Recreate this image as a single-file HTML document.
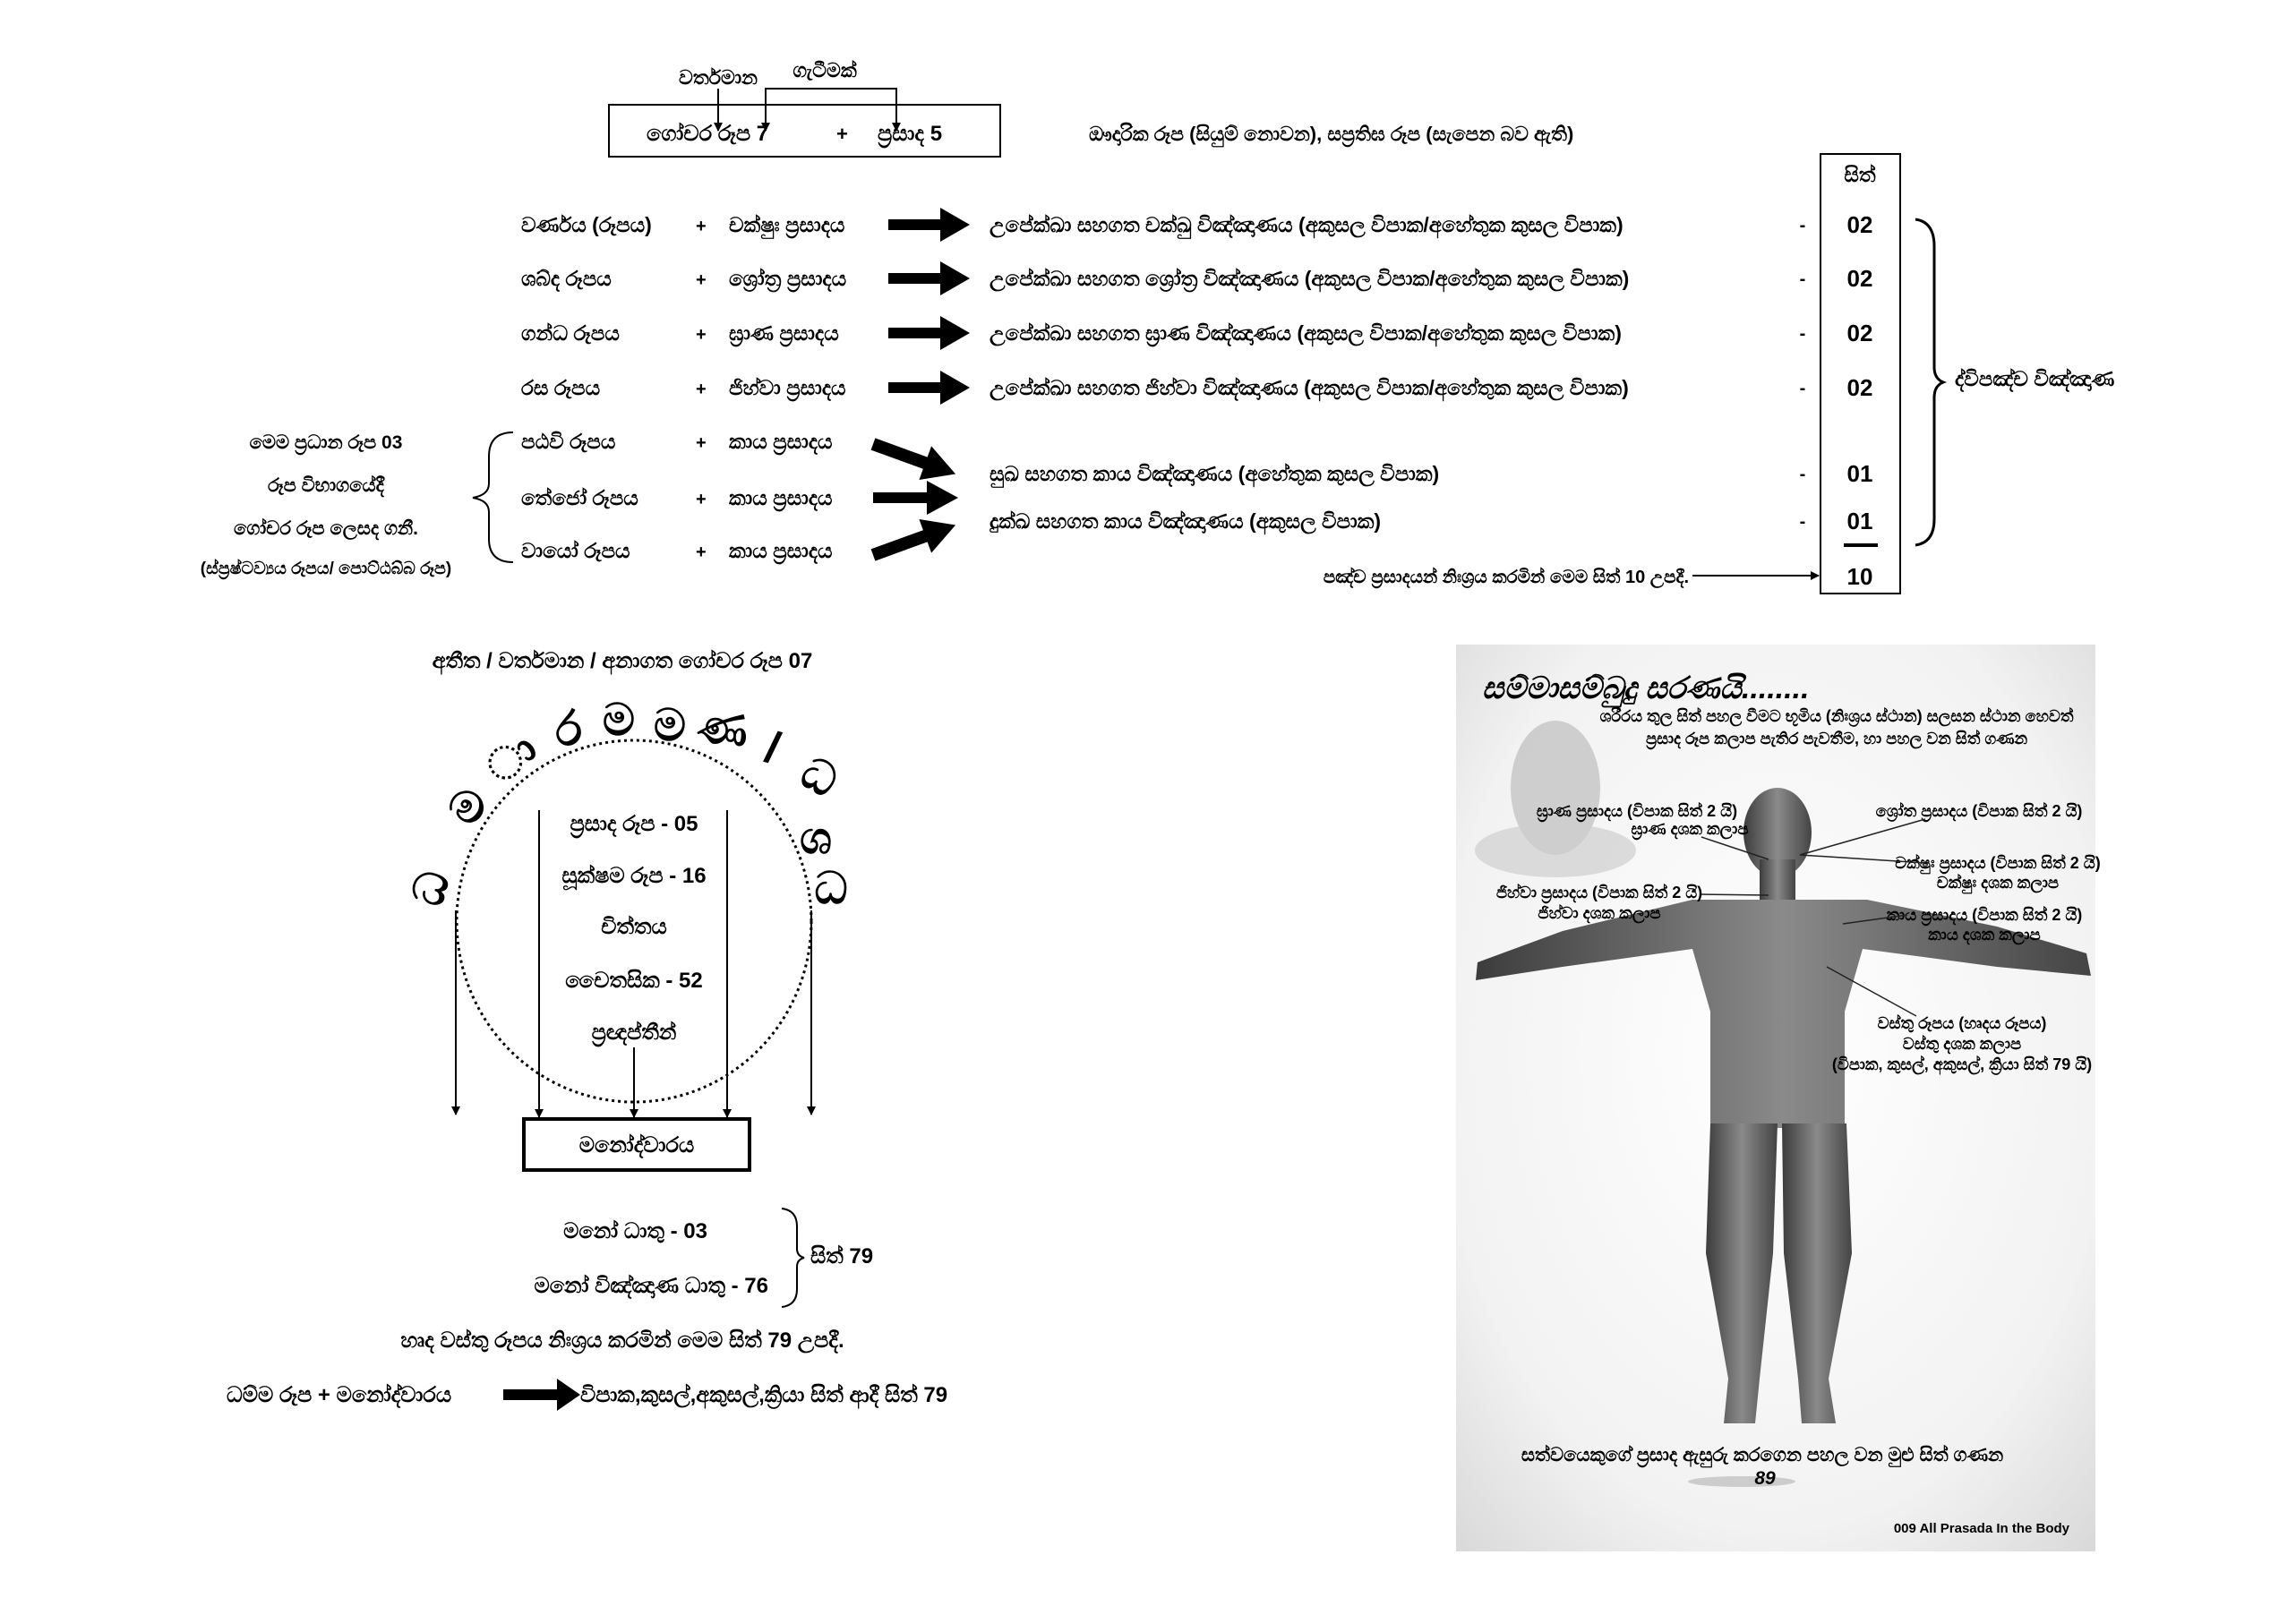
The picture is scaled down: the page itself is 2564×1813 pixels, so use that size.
<!DOCTYPE html>
<html><head><meta charset="utf-8"><style>
html,body{margin:0;padding:0;background:#fff;}
svg{display:block;}
text{font-family:"Liberation Sans","DejaVu Sans",sans-serif;font-weight:bold;fill:#000;}
</style></head><body>
<svg width="2564" height="1813" viewBox="0 0 2564 1813" xmlns="http://www.w3.org/2000/svg">
<defs>
<marker id="ah" markerWidth="10" markerHeight="10" refX="9" refY="5" orient="auto" markerUnits="userSpaceOnUse"><path d="M0,0 L10,5 L0,10 z" fill="#000"/></marker>
<marker id="ah2" markerWidth="16" markerHeight="14" refX="15" refY="7" orient="auto" markerUnits="userSpaceOnUse"><path d="M0,0 L16,7 L0,14 z" fill="#000"/></marker>
<radialGradient id="bg" cx="0.5" cy="0.45" r="0.75"><stop offset="0" stop-color="#ffffff"/><stop offset="0.7" stop-color="#f2f2f2"/><stop offset="1" stop-color="#d8d8d8"/></radialGradient>
<linearGradient id="body" x1="0" x2="1"><stop offset="0" stop-color="#3c3c3c"/><stop offset="0.5" stop-color="#8a8a8a"/><stop offset="1" stop-color="#444"/></linearGradient>
</defs>

<!-- top header -->
<text x="802" y="94" font-size="22" text-anchor="middle">වර්තමාන</text>
<text x="921" y="86" font-size="22" text-anchor="middle">ගැටීමක්</text>
<line x1="802" y1="99" x2="802" y2="146" stroke="#000" stroke-width="2" marker-end="url(#ah)"/>
<polyline points="855,146 855,99 1001,99 1001,146" fill="none" stroke="#000" stroke-width="2"/>
<line x1="855" y1="110" x2="855" y2="146" stroke="#000" stroke-width="2" marker-end="url(#ah)"/>
<line x1="1001" y1="110" x2="1001" y2="146" stroke="#000" stroke-width="2" marker-end="url(#ah)"/>
<rect x="680" y="117" width="437" height="58" fill="none" stroke="#000" stroke-width="2"/>
<text x="722" y="157" font-size="24">ගෝචර රූප 7</text>
<text x="934" y="157" font-size="22">+</text>
<text x="980" y="157" font-size="24">ප්‍රසාද 5</text>
<text x="1216" y="157" font-size="22">ඖදාරික රූප (සියුම් නොවන), සප්‍රතිඝ රූප (සැපෙන බව ඇති)</text>

<!-- sith column -->
<rect x="2033" y="172" width="89" height="491" fill="none" stroke="#000" stroke-width="2"/>
<text x="2077" y="203" font-size="23" text-anchor="middle">සිත්</text>

<!-- rows -->
<g font-size="23">
<text x="582" y="259">වර්ණය (රූපය)</text><text x="777" y="259" font-size="20">+</text><text x="814" y="259">චක්ෂුඃ ප්‍රසාදය</text>
<text x="1105" y="259">උපේක්ඛා සහගත චක්ඛු විඤ්ඤාණය (අකුසල විපාක/අහේතුක කුසල විපාක)</text>
<text x="582" y="319">ශබ්ද රූපය</text><text x="777" y="319" font-size="20">+</text><text x="814" y="319">ශ්‍රෝත්‍ර ප්‍රසාදය</text>
<text x="1105" y="319">උපේක්ඛා සහගත ශ්‍රෝත්‍ර විඤ්ඤාණය (අකුසල විපාක/අහේතුක කුසල විපාක)</text>
<text x="582" y="380">ගන්ධ රූපය</text><text x="777" y="380" font-size="20">+</text><text x="814" y="380">ඝ්‍රාණ ප්‍රසාදය</text>
<text x="1105" y="380">උපේක්ඛා සහගත ඝ්‍රාණ විඤ්ඤාණය (අකුසල විපාක/අහේතුක කුසල විපාක)</text>
<text x="582" y="441">රස රූපය</text><text x="777" y="441" font-size="20">+</text><text x="814" y="441">ජිහ්වා ප්‍රසාදය</text>
<text x="1105" y="441">උපේක්ඛා සහගත ජිහ්වා විඤ්ඤාණය (අකුසල විපාක/අහේතුක කුසල විපාක)</text>
<text x="582" y="501">පඨවි රූපය</text><text x="777" y="501" font-size="20">+</text><text x="814" y="501">කාය ප්‍රසාදය</text>
<text x="582" y="564">තේජෝ රූපය</text><text x="777" y="564" font-size="20">+</text><text x="814" y="564">කාය ප්‍රසාදය</text>
<text x="582" y="623">වායෝ රූපය</text><text x="777" y="623" font-size="20">+</text><text x="814" y="623">කාය ප්‍රසාදය</text>
<text x="1105" y="537">සුඛ සහගත කාය විඤ්ඤාණය (අහේතුක කුසල විපාක)</text>
<text x="1105" y="590">දුක්ඛ සහගත කාය විඤ්ඤාණය (අකුසල විපාක)</text>
</g>
<g font-size="20" text-anchor="middle">
<text x="2013" y="258">-</text><text x="2013" y="318">-</text><text x="2013" y="379">-</text><text x="2013" y="440">-</text><text x="2013" y="536">-</text><text x="2013" y="589">-</text>
</g>
<g font-size="26" text-anchor="middle">
<text x="2077" y="260">02</text><text x="2077" y="320">02</text><text x="2077" y="381">02</text><text x="2077" y="442">02</text>
<text x="2077" y="538">01</text><text x="2077" y="591">01</text><text x="2077" y="653">10</text>
</g>
<line x1="2059" y1="609" x2="2097" y2="609" stroke="#000" stroke-width="4"/>

<!-- block arrows -->
<g fill="#000">
<path d="M992,245 L1050,245 L1050,232 L1083,251 L1050,270 L1050,257 L992,257 z"/>
<path d="M992,305 L1050,305 L1050,292 L1083,311 L1050,330 L1050,317 L992,317 z"/>
<path d="M992,366 L1050,366 L1050,353 L1083,372 L1050,391 L1050,378 L992,378 z"/>
<path d="M992,427 L1050,427 L1050,414 L1083,433 L1050,452 L1050,439 L992,439 z"/>
<path d="M975,550 L1035,550 L1035,537 L1070,556 L1035,575 L1035,562 L975,562 z"/>
<g transform="translate(975,496) rotate(20)"><path d="M0,-7 L62,-7 L62,-20 L98,0 L62,20 L62,7 L0,7 z"/></g>
<g transform="translate(975,620) rotate(-20)"><path d="M0,-7 L62,-7 L62,-20 L98,0 L62,20 L62,7 L0,7 z"/></g>
</g>

<!-- right brace -->
<path d="M2139,245 Q2160,248 2160,275 L2160,410 Q2160,423 2170,427 Q2160,431 2160,444 L2160,580 Q2160,606 2139,609" fill="none" stroke="#000" stroke-width="3"/>
<text x="2183" y="431" font-size="23">ද්විපඤ්ච විඤ්ඤාණ</text>

<!-- bottom sith arrow -->
<text x="1886" y="651" font-size="20" text-anchor="end">පඤ්ච ප්‍රසාදයන් නිඃශ්‍රය කරමින් මෙම සිත් 10 උපදී.</text>
<line x1="1890" y1="643" x2="2031" y2="643" stroke="#000" stroke-width="2" marker-end="url(#ah)"/>

<!-- left notes -->
<g font-size="21" text-anchor="middle">
<text x="364" y="501">මෙම ප්‍රධාන රූප 03</text>
<text x="364" y="549">රූප විභාගයේදී</text>
<text x="364" y="597">ගෝචර රූප ලෙසද ගනී.</text>
<text x="364" y="641" font-size="19">(ස්ප්‍රෂ්ටව්‍යය රූපය/ පොට්ඨබ්බ රූප)</text>
</g>
<path d="M573,483 Q546,483 546,510 L546,540 Q546,553 528,556 Q546,559 546,572 L546,602 Q546,628 573,628" fill="none" stroke="#000" stroke-width="2"/>

<!-- bottom left diagram -->
<text x="695" y="746" font-size="24" text-anchor="middle">අතීත / වර්තමාන / අනාගත ගෝචර රූප 07</text>
<ellipse cx="708" cy="1029" rx="198" ry="202" fill="none" stroke="#000" stroke-width="3" stroke-dasharray="3,4"/>
<g font-size="50" text-anchor="middle" font-family="DejaVu Sans,sans-serif">
<text x="480" y="1010" transform="rotate(-75 480 992)">ධ</text>
<text x="523" y="918" transform="rotate(-55 523 901)">ම</text>
<text x="571" y="864" transform="rotate(-38 571 847)">ා</text>
<text x="634" y="832" transform="rotate(-20 634 815)">ර</text>
<text x="691" y="821">ම</text>
<text x="748" y="827">ම</text>
<text x="807" y="831" transform="rotate(5 807 814)">ණ</text>
<text x="863" y="852" transform="rotate(15 863 835)">/</text>
<text x="915" y="885" transform="rotate(30 915 868)">ධ</text>
<text x="911" y="953">ශ</text>
<text x="928" y="1009">ධ</text>
</g>
<g font-size="24" text-anchor="middle">
<text x="708" y="928">ප්‍රසාද රූප - 05</text>
<text x="708" y="986">සූක්ෂම රූප - 16</text>
<text x="708" y="1043">චිත්තය</text>
<text x="708" y="1103">චෛතසික - 52</text>
<text x="708" y="1161">ප්‍රඥප්තීන්</text>
</g>
<g stroke="#000" stroke-width="2">
<line x1="509" y1="1017" x2="509" y2="1245" marker-end="url(#ah)"/>
<line x1="602" y1="905" x2="602" y2="1248" marker-end="url(#ah)"/>
<line x1="812" y1="905" x2="812" y2="1248" marker-end="url(#ah)"/>
<line x1="906" y1="1017" x2="906" y2="1245" marker-end="url(#ah)"/>
<line x1="708" y1="1170" x2="708" y2="1248" marker-end="url(#ah)"/>
</g>
<rect x="585" y="1250" width="252" height="57" fill="none" stroke="#000" stroke-width="4"/>
<text x="711" y="1287" font-size="24" text-anchor="middle">මනෝද්වාරය</text>

<g font-size="24">
<text x="790" y="1383" text-anchor="end">මනෝ ධාතු - 03</text>
<text x="858" y="1444" text-anchor="end">මනෝ විඤ්ඤාණ ධාතු - 76</text>
<text x="905" y="1411">සිත් 79</text>
<text x="695" y="1505" text-anchor="middle">හෘද වස්තු රූපය නිඃශ්‍රය කරමින් මෙම සිත් 79 උපදී.</text>
<text x="253" y="1566">ධම්ම රූප + මනෝද්වාරය</text>
<text x="648" y="1566">විපාක,කුසල්,අකුසල්,ක්‍රියා සිත් ආදී සිත් 79</text>
</g>
<path d="M873,1350 Q890,1352 890,1370 L890,1395 Q890,1403 898,1405 Q890,1407 890,1415 L890,1440 Q890,1458 873,1460" fill="none" stroke="#000" stroke-width="2"/>
<path d="M562,1552 L622,1552 L622,1540 L648,1558 L622,1576 L622,1564 L562,1564 z" fill="#000"/>

<!-- image panel -->
<rect x="1626" y="720" width="714" height="1013" fill="url(#bg)"/>
<ellipse cx="1737" cy="880" rx="50" ry="75" fill="#bdbdbd" opacity="0.7"/>
<ellipse cx="1737" cy="950" rx="90" ry="30" fill="#cfcfcf" opacity="0.7"/>
<!-- figure -->
<g fill="url(#body)">
<ellipse cx="1985" cy="930" rx="38" ry="50"/>
<rect x="1965" y="960" width="40" height="50"/>
<path d="M1890,1005 L2085,1005 L2230,1035 L2330,1065 L2335,1090 L2230,1080 L2080,1060 L2060,1130 L2060,1260 L1910,1260 L1910,1130 L1890,1060 L1745,1080 L1648,1095 L1650,1075 L1745,1040 z"/>
<path d="M1910,1255 L1985,1255 L1980,1400 L1965,1540 L1960,1590 L1925,1590 L1930,1540 L1905,1400 z"/>
<path d="M1990,1255 L2062,1255 L2068,1400 L2042,1540 L2050,1590 L2012,1590 L2008,1540 L1992,1400 z"/>
</g>
<ellipse cx="1945" cy="1655" rx="60" ry="6" fill="#ccc"/>
<g font-size="18" fill="#000">
<text x="1655" y="780" font-size="34" font-style="italic">සම්මාසම්බුදු සරණයි........</text>
<text x="2051" y="806" text-anchor="middle">ශරීරය තුල සිත් පහල වීමට භූමිය (නිඃශ්‍රය ස්ථාන) සලසන ස්ථාන හෙවත්</text>
<text x="2051" y="831" text-anchor="middle">ප්‍රසාද රූප කලාප පැතිර පැවතීම, හා පහල වන සිත් ගණන</text>
<text x="1828" y="912" text-anchor="middle">ඝ්‍රාණ ප්‍රසාදය (විපාක සිත් 2 යි)</text>
<text x="1887" y="932" text-anchor="middle">ඝ්‍රාණ දශක කලාප</text>
<text x="2210" y="912" text-anchor="middle">ශ්‍රෝත ප්‍රසාදය (විපාක සිත් 2 යි)</text>
<text x="2231" y="970" text-anchor="middle">චක්ෂුඃ ප්‍රසාදය (විපාක සිත් 2 යි)</text>
<text x="2231" y="992" text-anchor="middle">චක්ෂුඃ දශක කලාප</text>
<text x="1786" y="1003" text-anchor="middle">ජිහ්වා ප්‍රසාදය (විපාක සිත් 2 යි)</text>
<text x="1786" y="1026" text-anchor="middle">ජිහ්වා දශක කලාප</text>
<text x="2216" y="1028" text-anchor="middle">කාය ප්‍රසාදය (විපාක සිත් 2 යි)</text>
<text x="2216" y="1050" text-anchor="middle">කාය දශක කලාප</text>
<text x="2191" y="1149" text-anchor="middle">වස්තු රූපය (හෘදය රූපය)</text>
<text x="2191" y="1172" text-anchor="middle">වස්තු දශක කලාප</text>
<text x="2191" y="1195" text-anchor="middle">(විපාක, කුසල්, අකුසල්, ක්‍රියා සිත් 79 යි)</text>
<text x="1968" y="1632" text-anchor="middle" font-size="21">සත්වයෙකුගේ ප්‍රසාද ඇසුරු කරගෙන පහල වන මුළු සිත් ගණන</text>
<text x="1971" y="1658" text-anchor="middle" font-size="21" font-style="italic">89</text>
<text x="2311" y="1712" text-anchor="end" font-size="15" font-weight="normal" fill="#333">009 All  Prasada In the Body</text>
</g>
<g stroke="#222" stroke-width="1.5">
<line x1="1900" y1="935" x2="1975" y2="960"/>
<line x1="2150" y1="915" x2="2010" y2="955"/>
<line x1="2150" y1="964" x2="2010" y2="955"/>
<line x1="1900" y1="999" x2="1975" y2="1000"/>
<line x1="2130" y1="1022" x2="2058" y2="1032"/>
<line x1="2140" y1="1135" x2="2040" y2="1080"/>
</g>
</svg>
</body></html>
